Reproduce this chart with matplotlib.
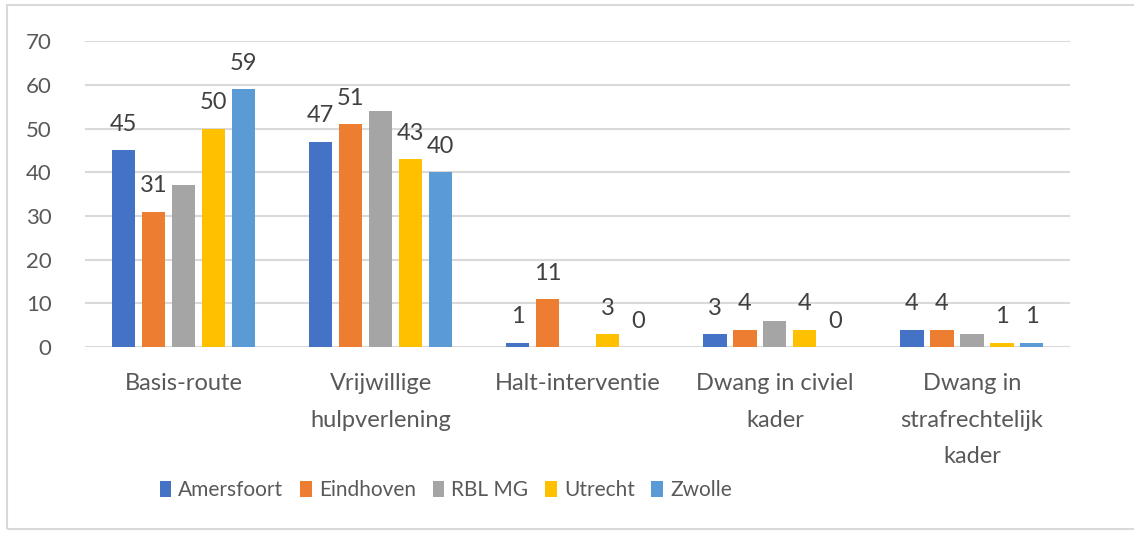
import matplotlib.pyplot as plt
import numpy as np
from matplotlib.patches import Rectangle

categories = ["Basis-route", "Vrijwillige\nhulpverlening", "Halt-interventie",
              "Dwang in civiel\nkader", "Dwang in\nstrafrechtelijk\nkader"]
series = ["Amersfoort", "Eindhoven", "RBL MG", "Utrecht", "Zwolle"]
amersfoort = [45, 47, 1, 3, 4]
eindhoven = [31, 51, 11, 4, 4]
rbl_mg = [37, 54, 0, 6, 3]
utrecht = [50, 43, 3, 4, 1]
zwolle = [59, 40, 0, 0, 1]
colors = ["#4472C4", "#ED7D31", "#A5A5A5", "#FFC000", "#5B9BD5"]
show_labels = [True, True, False, True, True]

plt.rcParams['font.family'] = ['Lato', 'DejaVu Sans']
txt = "#595959"

fig = plt.figure(figsize=(11.34, 5.34), dpi=100)
ax = fig.add_axes([0.075, 0.350, 0.869, 0.573])

x = np.arange(len(categories))
step = 0.152
width = 0.118
for i, (name, vals) in enumerate(zip(series, [amersfoort, eindhoven, rbl_mg, utrecht, zwolle])):
    pos = x + (i - 2) * step
    ax.bar(pos, vals, width, color=colors[i], label=name, zorder=3)
    if show_labels[i]:
        for p, v in zip(pos, vals):
            ax.annotate(str(v), (p, v), xytext=(0, 11), textcoords="offset points",
                        ha="center", va="bottom", fontsize=17, color="#404040")

ax.set_xlim(-0.5, 4.5)
ax.set_ylim(0, 70)
ax.set_yticks(range(0, 71, 10))
ax.yaxis.grid(True, color="#D9D9D9", linewidth=1.5, zorder=0)
for s in ax.spines.values():
    s.set_visible(False)
ax.tick_params(axis="y", length=0, labelsize=16, labelcolor=txt, pad=24)
ax.tick_params(axis="x", length=0, labelsize=17, labelcolor=txt, pad=19)
ax.set_xticks(x)
ax.set_xticklabels(categories, linespacing=1.9)

ax.legend(loc="center", bbox_to_anchor=(0.366, -0.467), ncol=5, frameon=False,
          fontsize=15, handlelength=0.55, handleheight=0.8, handletextpad=0.35,
          columnspacing=0.8, labelcolor=txt)

fig.patches.append(Rectangle((0.006, 0.01), 1.2, 0.98, transform=fig.transFigure,
                             fill=False, edgecolor="#D9D9D9", linewidth=1.5))

fig.savefig("out.png", dpi=100)
